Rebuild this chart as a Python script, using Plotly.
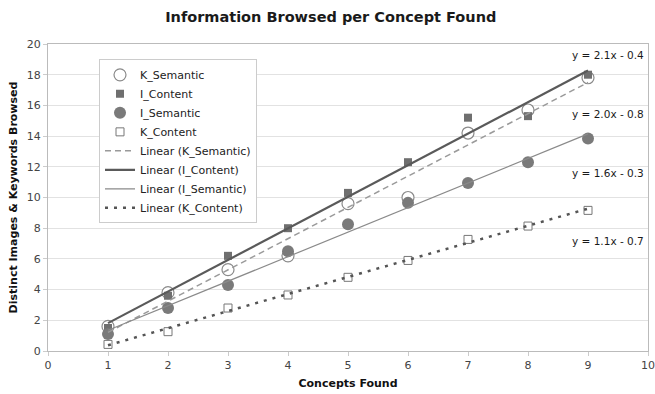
import numpy as np
import plotly.graph_objects as go

concepts = [1, 2, 3, 4, 5, 6, 7, 8, 9]
k_semantic = [1.6, 3.8, 5.3, 6.2, 9.6, 10.0, 14.2, 15.7, 17.8]
i_content = [1.5, 3.6, 6.2, 8.0, 10.3, 12.3, 15.2, 15.3, 18.0]
i_semantic = [1.1, 2.8, 4.3, 6.5, 8.25, 9.65, 10.95, 12.3, 13.85]
k_content = [0.43, 1.26, 2.8, 3.65, 4.8, 5.9, 7.27, 8.14, 9.16]

eq_labels = ["y = 2.1x - 0.4", "y = 2.0x - 0.8", "y = 1.6x - 0.3", "y = 1.1x - 0.7"]
eq_y = [19.3, 15.45, 11.6, 7.15]
x_ticks = list(range(0, 11))
y_ticks = list(range(0, 21, 2))

FONT = "DejaVu Sans"
fig = go.Figure()

# markers
fig.add_trace(go.Scatter(x=concepts, y=k_semantic, mode="markers", name="K_Semantic",
                         marker=dict(symbol="circle", size=12, color="white",
                                     line=dict(color="#8a8a8a", width=1.2))))
fig.add_trace(go.Scatter(x=concepts, y=i_content, mode="markers", name="I_Content",
                         marker=dict(symbol="square", size=8, color="#6f6f6f",
                                     line=dict(width=0))))
fig.add_trace(go.Scatter(x=concepts, y=i_semantic, mode="markers", name="I_Semantic",
                         marker=dict(symbol="circle", size=12, color="#7a7a7a",
                                     line=dict(width=0))))
fig.add_trace(go.Scatter(x=concepts, y=k_content, mode="markers", name="K_Content",
                         marker=dict(symbol="square", size=8, color="white",
                                     line=dict(color="#777777", width=1))))

# linear trendlines computed from data
def trend(ys):
    m, b = np.polyfit(concepts, ys, 1)
    xs = np.array([concepts[0], concepts[-1]], dtype=float)
    return xs, m * xs + b

xs, ys = trend(k_semantic)
fig.add_trace(go.Scatter(x=xs, y=ys, mode="lines", name="Linear (K_Semantic)",
                         line=dict(color="#9a9a9a", width=1.5, dash="6px,4px")))
xs, ys = trend(i_content)
fig.add_trace(go.Scatter(x=xs, y=ys, mode="lines", name="Linear (I_Content)",
                         line=dict(color="#5a5a5a", width=2.2)))
xs, ys = trend(i_semantic)
fig.add_trace(go.Scatter(x=xs, y=ys, mode="lines", name="Linear (I_Semantic)",
                         line=dict(color="#8a8a8a", width=1.2)))
xs, ys = trend(k_content)
fig.add_trace(go.Scatter(x=xs, y=ys, mode="lines", name="Linear (K_Content)",
                         line=dict(color="#555555", width=2.5, dash="3px,6px")))

for lab, yy in zip(eq_labels, eq_y):
    fig.add_annotation(x=9.33, y=yy, text=lab, showarrow=False, xref="x", yref="y",
                       font=dict(family=FONT, size=10.5, color="#1a1a1a"))

fig.update_layout(
    width=655, height=394,
    margin=dict(l=48, r=7, t=44, b=43),
    paper_bgcolor="white", plot_bgcolor="white",
    title=dict(text="<b>Information Browsed per Concept Found</b>", x=0.505, xanchor="center",
               y=0.957, yanchor="middle", font=dict(family=FONT, size=14.5, color="#1a1a1a")),
    font=dict(family=FONT, size=10.5, color="#333"),
    showlegend=True,
    legend=dict(x=0.085, y=0.95, xanchor="left", yanchor="top",
                bgcolor="white", bordercolor="#cccccc", borderwidth=1,
                font=dict(family=FONT, size=11, color="#222"),
                itemwidth=30, tracegroupgap=0),
    xaxis=dict(range=[0, 10], tickvals=x_ticks, showgrid=False, zeroline=False,
               showline=True, linecolor="#bbbbbb", mirror=True,
               ticks="outside", ticklen=4, tickcolor="#cccccc", automargin=False,
               title=dict(text="<b>Concepts Found</b>", standoff=8,
                          font=dict(family=FONT, size=11, color="#111")),
               tickfont=dict(family=FONT, size=11, color="#444")),
    yaxis=dict(range=[0, 20], tickvals=y_ticks, showgrid=True, gridcolor="#e2e2e2",
               zeroline=False, showline=True, linecolor="#bbbbbb", mirror=True,
               ticks="outside", ticklen=4, tickcolor="#cccccc", automargin=False,
               title=dict(text="<b>Distinct Images & Keywords Browsed</b>", standoff=6,
                          font=dict(family=FONT, size=11, color="#111")),
               tickfont=dict(family=FONT, size=11, color="#444")),
)

fig.write_html("out.html", config={"displayModeBar": False},
               post_script="document.body.style.margin='0';document.body.style.overflow='hidden';")
